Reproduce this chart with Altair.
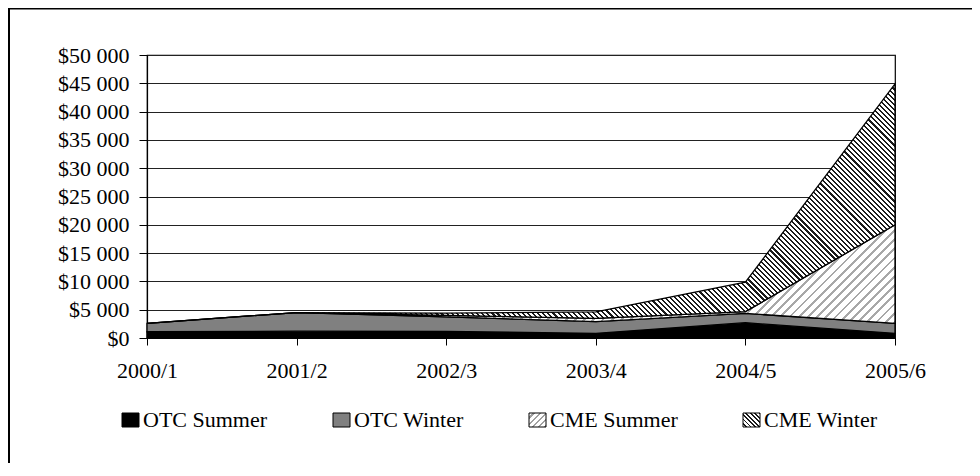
import math
import altair as alt
import pandas as pd

# ---- data ----
periods = ["2000/1", "2001/2", "2002/3", "2003/4", "2004/5", "2005/6"]
otc_summer = [1100, 1200, 1150, 830, 2700, 830]
otc_winter = [1500, 3300, 2600, 2050, 1650, 1770]
cme_summer = [0, 0, 250, 600, 300, 17400]
cme_winter = [0, 0, 400, 1150, 5200, 24900]
series_names = ["OTC Summer", "OTC Winter", "CME Summer", "CME Winter"]
y_ticks = [0, 5000, 10000, 15000, 20000, 25000, 30000, 35000, 40000, 45000, 50000]

# ---- layout / style ----
W, H = 748, 283
Y_MAX = 50000
FONT = "Liberation Serif"
FS = 22

series_values = [otc_summer, otc_winter, cme_summer, cme_winter]
rows = []
for order, (name, vals) in enumerate(zip(series_names, series_values)):
    for p, v in zip(periods, vals):
        rows.append({"period": p, "series": name, "value": v, "order": order})
df = pd.DataFrame(rows)


def stripes(bw, bh, period, line_w, line_color, bg, direction):
    b = bh / bw
    s = (1 + b) / (1 + b * b)
    mag = math.sqrt(2) / (bw * s * (1 + b * b))
    n = max(1, round(1 / (period * mag)))
    frac = line_w / period
    stops = []
    for k in range(n):
        t0 = round(k / n, 6)
        t1 = round((k + 1 - frac) / n, 6)
        t2 = round((k + 1) / n, 6)
        stops += [
            alt.GradientStop(offset=t0, color=bg),
            alt.GradientStop(offset=t1, color=bg),
            alt.GradientStop(offset=t1, color=line_color),
            alt.GradientStop(offset=t2, color=line_color),
        ]
    if direction == "/":
        x1, y1, x2, y2 = 0, 0, s, b * s
    else:
        x1, y1, x2, y2 = 0, 1, s, 1 - b * s
    return alt.LinearGradient(gradient="linear", stops=stops,
                              x1=x1, y1=y1, x2=x2, y2=y2)


# bounding boxes of the hatched areas (pixels), from stacked values
cum = [[sum(series_values[j][i] for j in range(k + 1)) for i in range(len(periods))]
       for k in range(4)]
px = H / Y_MAX
h_cs = (max(cum[2]) - min(cum[1])) * px
h_cw = (max(cum[3]) - min(cum[2])) * px

fills = {
    "OTC Summer": "#000000",
    "OTC Winter": "#808080",
    "CME Summer": stripes(W, h_cs, 6.5, 2.0, "#a8a8a8", "#ffffff", "/"),
    "CME Winter": stripes(W, h_cw, 3.6, 1.5, "#1a1a1a", "#ffffff", "\\"),
}
legend_fills = {
    "OTC Summer": "#000000",
    "OTC Winter": "#808080",
    "CME Summer": stripes(17, 14, 4.5, 1.6, "#a0a0a0", "#ffffff", "/"),
    "CME Winter": stripes(17, 14, 3.0, 1.2, "#1a1a1a", "#ffffff", "\\"),
}

x_enc = alt.X("period:O", sort=periods,
              scale=alt.Scale(type="point", padding=0),
              axis=alt.Axis(labelAngle=0, title=None, tickSize=7, labelPadding=15,
                            grid=False, domainColor="black", tickColor="black",
                            domainWidth=1.2))
y_enc = alt.Y("y1:Q", scale=alt.Scale(domain=[0, Y_MAX], nice=False),
              axis=alt.Axis(values=y_ticks, title=None, tickSize=8, labelPadding=10,
                            grid=True, gridColor="#222222", gridWidth=1.1,
                            domainColor="black", tickColor="black", domainWidth=1.2,
                            labelExpr="'$' + replace(format(datum.value, ','), regexp(',', 'g'), ' ')"))

base = alt.Chart(df).transform_stack(
    stack="value", groupby=["period"],
    sort=[alt.SortField("order", "ascending")], as_=["y0", "y1"])

area_layers = []
for name in series_names:
    area_layers.append(
        base.transform_filter(alt.datum.series == name)
        .mark_area(fill=fills[name], stroke="black", strokeWidth=1.3,
                   interpolate="linear")
        .encode(x=x_enc, y=y_enc, y2="y0:Q")
    )

# ---- legend (hand drawn) ----
legend_pos = {"OTC Summer": -25, "OTC Winter": 186, "CME Summer": 382, "CME Winter": 596}
legend_layers = []
for name in series_names:
    lx = legend_pos[name]
    ldf = pd.DataFrame({"s": [name]})
    legend_layers.append(
        alt.Chart(ldf).mark_rect(fill=legend_fills[name], stroke="black", strokeWidth=1)
        .encode(x=alt.value(lx), x2=alt.value(lx + 17), y=alt.value(358), y2=alt.value(372))
    )
    legend_layers.append(
        alt.Chart(ldf).mark_text(align="left", baseline="alphabetic", font=FONT,
                                 fontSize=FS, color="black")
        .encode(x=alt.value(lx + 21), y=alt.value(372), text="s:N")
    )

# outer frame: only the left and top edges are visible in the reference
fdf = pd.DataFrame({"a": [0]})
frame_left = alt.Chart(fdf).mark_rule(color="black", strokeWidth=2).encode(
    x=alt.value(-138), y=alt.value(-47), y2=alt.value(420))
frame_top = alt.Chart(fdf).mark_rule(color="black", strokeWidth=1.5).encode(
    x=alt.value(-139), x2=alt.value(830), y=alt.value(-46.2))

chart = alt.layer(frame_left, frame_top, *area_layers, *legend_layers).properties(
    width=W, height=H,
    autosize=alt.AutoSizeParams(type="none"),
    padding={"left": 139, "top": 47, "right": 77, "bottom": 125},
).configure_view(
    stroke="black", strokeWidth=1.2
).configure_axis(
    labelFont=FONT, labelFontSize=FS, labelColor="black"
)

chart.save("out.html", embed_options={"renderer": "svg", "actions": False})
